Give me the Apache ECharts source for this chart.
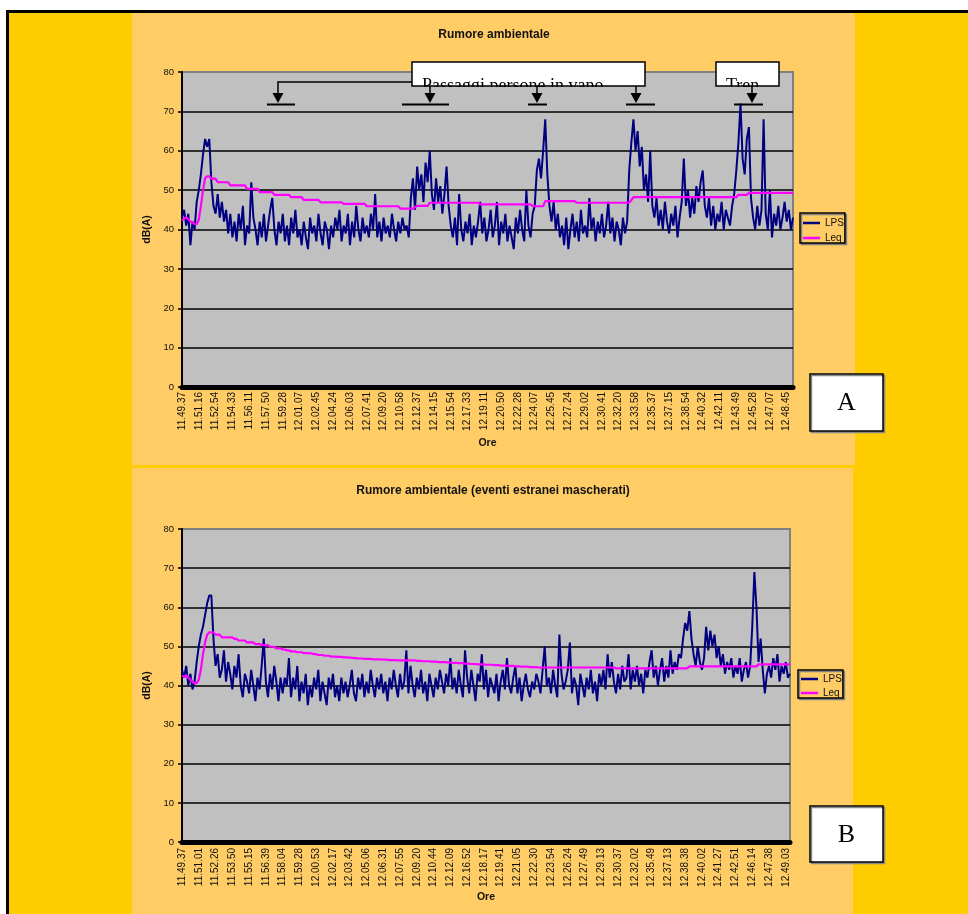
<!DOCTYPE html>
<html>
<head>
<meta charset="utf-8">
<script src="https://cdn.jsdelivr.net/npm/echarts@6/dist/echarts.min.js"></script>
<style>
  html, body { margin: 0; padding: 0; background: #ffffff; }
  #chart { width: 968px; height: 914px; }
</style>
</head>
<body>
<div id="chart"></div>
<script>
// Time labels shown under each chart (one every 8 samples)
const topTicks = ['11.49.37','11.51.16','11.52.54','11.54.33','11.56.11','11.57.50','11.59.28','12.01.07','12.02.45','12.04.24','12.06.03','12.07.41','12.09.20','12.10.58','12.12.37','12.14.15','12.15.54','12.17.33','12.19.11','12.20.50','12.22.28','12.24.07','12.25.45','12.27.24','12.29.02','12.30.41','12.32.20','12.33.58','12.35.37','12.37.15','12.38.54','12.40.32','12.42.11','12.43.49','12.45.28','12.47.07','12.48.45'];
const bottomTicks = ['11.49.37','11.51.01','11.52.26','11.53.50','11.55.15','11.56.39','11.58.04','11.59.28','12.00.53','12.02.17','12.03.42','12.05.06','12.06.31','12.07.55','12.09.20','12.10.44','12.12.09','12.16.52','12.18.17','12.19.41','12.21.05','12.22.30','12.23.54','12.26.24','12.27.49','12.29.13','12.30.37','12.32.02','12.35.49','12.37.13','12.38.38','12.40.02','12.41.27','12.42.51','12.46.14','12.47.38','12.49.03'];

// Chart A: sound pressure level LPS, dB(A)
const topLps = [
  43,45,41,44,36,42,40,47, 50,54,59,63,61,63,52,46, 44,49,43,47,42,45,39,44, 38,42,37,44,40,46,36,41,
  39,52,43,40,36,42,38,44, 37,41,45,48,40,36,42,39, 44,37,41,36,43,39,45,38, 40,36,42,38,35,43,39,41,
  37,44,39,36,42,40,35,41, 38,43,40,45,37,41,39,44, 36,42,38,46,40,37,43,39, 41,38,44,40,49,38,42,37,
  43,39,41,38,44,40,37,42, 39,43,40,41,38,48,53,45, 56,50,54,47,57,52,60,49, 45,53,47,51,44,49,56,46,
  41,38,43,36,49,40,37,42, 39,44,36,41,38,42,47,39, 43,37,40,45,38,41,47,36, 42,39,44,37,41,38,35,43,
  39,45,40,37,50,41,38,44, 46,55,58,53,60,68,54,46, 42,47,40,44,38,41,36,43, 35,40,44,38,42,37,45,39,
  41,38,48,40,43,37,42,39, 44,38,41,47,39,43,37,42, 40,36,43,39,42,55,62,68, 60,65,56,61,50,54,47,60,
  46,43,48,41,45,40,47,42, 39,44,41,46,38,43,47,58, 46,50,43,48,44,51,47,52, 55,46,43,48,41,46,40,44,
  42,47,40,45,43,41,46,49, 55,62,72,58,54,63,66,48, 43,40,46,41,45,68,44,40, 50,38,44,41,46,40,43,47,
  42,45,40,43
];
// Chart A: running equivalent level Leq, dB(A)
const topLeq = [
  42.3,42.8,43.1,42.6,42.0,41.8,41.4,41.4, 42.5,46.0,50.0,53.0,53.5,53.5,52.9,52.9,
  52.9,52.0,52.0,52.0,52.0,52.0,52.0,51.2, 51.2,51.2,51.2,51.2,51.2,51.2,51.2,50.3,
  50.3,50.3,50.3,50.3,50.3,49.5,49.5,49.5, 49.5,49.5,49.5,49.5,48.8,48.8,48.8,48.8,
  48.8,48.8,48.8,48.8,48.2,48.2,48.2,48.2, 48.2,48.2,47.5,47.5,47.5,47.5,47.5,47.5,
  47.5,47.5,46.9,46.9,46.9,46.9,46.9,46.9, 46.9,46.9,46.9,46.9,46.9,46.5,46.5,46.5,
  46.5,46.5,46.5,46.5,46.5,46.5,46.5,46.5, 45.9,45.9,45.9,45.9,45.9,45.9,45.9,45.9,
  45.9,45.9,45.9,45.9,45.9,45.9,45.9,45.9, 45.3,45.3,45.3,45.3,45.3,45.3,45.3,45.7,
  46.0,46.0,46.0,46.0,46.0,46.0,46.8,46.8, 46.8,46.8,46.8,46.8,46.8,46.8,46.8,46.8,
  46.8,46.8,46.8,46.8,46.8,46.8,46.8,46.8, 46.8,46.8,46.8,46.8,46.8,46.8,46.4,46.4,
  46.4,46.4,46.4,46.4,46.4,46.4,46.4,46.4, 46.4,46.4,46.4,46.4,46.4,46.4,46.4,46.4,
  46.4,46.4,46.4,46.4,46.4,46.4,46.4,45.9, 45.9,45.9,45.9,45.9,45.9,47.2,47.2,47.2,
  47.2,47.2,47.2,47.2,47.2,47.2,47.2,47.2, 47.2,47.2,47.2,47.2,46.8,46.8,46.8,46.8,
  46.8,46.8,46.8,46.8,46.8,46.8,46.8,46.8, 46.8,46.8,46.8,46.8,46.8,46.8,46.8,46.8,
  46.8,46.8,46.8,46.8,46.8,46.8,47.5,48.2, 48.2,48.2,48.2,48.2,48.2,48.2,48.2,48.2,
  48.2,48.2,48.2,48.2,48.2,48.2,48.2,48.2, 48.2,48.2,48.2,48.2,48.2,48.2,48.2,48.2,
  48.2,48.2,48.2,48.2,48.2,48.2,48.2,48.2, 48.2,48.2,48.2,48.2,48.2,48.2,48.2,48.2,
  48.2,48.2,48.2,48.2,48.2,48.2,48.2,48.2,
  48.2,48.8,48.8,48.8,48.8,48.8,49.3,49.3, 49.3,49.3,49.3,49.3,49.3,49.3,49.3,49.3,
  49.3,49.3,49.3,49.3,49.3,49.3,49.3,49.3, 49.3,49.3,49.3,49.3
];

// Chart B: LPS with the extraneous events removed
const bottomLps = [
  44,42,45,40,43,39,41,46, 50,53,55,58,61,63,63,52, 45,48,42,44,49,41,46,43, 39,45,42,48,40,37,43,41,
  38,44,40,36,42,39,45,52, 41,37,43,39,45,41,36,42, 38,42,40,47,37,42,39,45, 36,41,38,43,35,40,37,42,
  39,44,36,41,38,35,42,39, 43,37,40,36,42,38,41,37, 40,44,38,36,42,39,43,37, 41,38,44,40,37,42,39,43,
  38,41,36,42,39,44,40,37, 43,39,41,49,38,45,40,37, 42,39,44,38,41,36,43,40, 37,42,39,44,41,38,43,40,
  47,39,42,38,44,40,37,49, 42,38,44,40,36,43,41,48, 39,44,37,42,40,38,43,36, 41,44,39,47,40,38,42,45,
  38,42,36,40,43,39,37,41, 39,43,41,38,44,50,40,42, 38,44,40,37,53,43,39,41, 44,51,38,42,40,35,43,40,
  37,42,39,44,38,41,36,43, 40,44,39,48,42,46,41,38, 43,39,45,41,42,48,39,44, 41,45,40,43,38,44,42,46,
  49,42,45,40,44,47,41,45, 42,49,43,46,44,48,47,52, 56,54,59,52,48,45,50,46, 44,47,55,49,54,50,53,47,
  50,45,48,43,46,44,47,42, 45,43,47,41,44,46,42,45, 55,69,60,46,52,44,38,43, 45,42,47,44,48,41,45,43,
  46,42,43
];
// Chart B: Leq with the extraneous events removed
const bottomLeq = [
  42.5,42.2,42.6,42.0,41.5,41.0,40.6,40.6, 41.5,44.0,48.0,51.0,53.0,53.6,53.6,53.6,
  53.0,53.0,53.0,52.3,52.3,52.3,52.3,52.3, 52.3,51.9,51.9,51.5,51.5,51.5,51.5,51.0,
  51.0,51.0,51.0,50.6,50.6,50.6,50.3,50.3, 50.3,50.3,49.9,49.9,49.9,49.5,49.5,49.5,
  49.2,49.2,49.0,49.0,48.7,48.7,48.7,48.5, 48.5,48.5,48.3,48.3,48.3,48.2,48.2,48.0,
  48.0,47.8,47.8,47.8,47.6,47.6,47.6,47.4, 47.4,47.4,47.3,47.3,47.3,47.2,47.2,47.2,
  47.1,47.1,47.0,47.0,46.9,46.9,46.9,46.8, 46.8,46.8,46.8,46.7,46.7,46.7,46.7,46.7,
  46.6,46.6,46.6,46.5,46.5,46.5,46.5,46.4, 46.4,46.4,46.4,46.4,46.4,46.4,46.4,46.4,
  46.3,46.3,46.3,46.2,46.2,46.2,46.2,46.1, 46.1,46.1,46.0,46.0,46.0,46.0,45.9,45.9,
  45.9,45.8,45.8,45.8,45.7,45.7,45.7,45.6, 45.6,45.6,45.5,45.5,45.5,45.4,45.4,45.4,
  45.4,45.3,45.3,45.3,45.3,45.2,45.2,45.2, 45.1,45.1,45.1,45.0,45.0,45.0,45.0,44.9,
  44.9,44.9,44.8,44.8,44.8,44.8,44.7,44.7, 44.7,44.7,44.6,44.6,44.6,44.6,44.6,44.6,
  44.6,44.6,44.6,44.6,44.6,44.6,44.6,44.6, 44.6,44.6,44.6,44.6,44.6,44.6,44.6,44.6,
  44.6,44.6,44.6,44.6,44.6,44.6,44.6,44.6, 44.6,44.6,44.6,44.6,44.6,44.6,44.6,44.4,
  44.4,44.4,44.4,44.4,44.4,44.4,44.4,44.4, 44.4,44.4,44.4,44.4,44.4,44.4,44.4,44.4,
  44.4,44.4,44.4,44.4,44.4,44.4,44.4,44.4, 44.4,44.4,44.4,44.4,44.4,44.4,44.4,44.4,
  44.4,44.4,44.9,44.9,44.9,44.9,44.9,44.9, 44.9,44.9,44.9,44.9,44.9,44.9,44.9,44.9,
  44.9,44.9,44.9,44.9,44.9,44.9,44.9,44.9, 44.9,44.9,44.9,44.9,44.9,44.9,44.9,44.9,
  44.9,44.9,44.9,45.4,45.4,45.4,45.4,45.4, 45.4,45.4,45.4,45.4,45.4,45.4,45.4,45.4,
  45.4,45.4,45.4
];

const LABEL_STEP = 8;
const SANS = '"Liberation Sans", Arial, sans-serif';
const SERIF = '"Liberation Serif", "Times New Roman", serif';

// Category list: a time label every LABEL_STEP samples, blank in between
function buildCategories(ticks, count) {
  const out = [];
  for (let i = 0; i < count; i++) {
    out.push(i % LABEL_STEP === 0 && ticks[i / LABEL_STEP] !== undefined ? ticks[i / LABEL_STEP] : '');
  }
  return out;
}
const topCats = buildCategories(topTicks, topLps.length);
const bottomCats = buildCategories(bottomTicks, bottomLps.length);

function xAxisFor(gridIndex, cats, nameGap, margin) {
  return {
    gridIndex, type: 'category', data: cats, boundaryGap: false,
    axisLine: { show: true, lineStyle: { color: '#000', width: 5 } },
    axisTick: { show: false },
    splitLine: { show: false },
    axisLabel: { interval: LABEL_STEP - 1, rotate: 90, fontSize: 10, color: '#111', margin, fontFamily: SANS },
    name: 'Ore', nameLocation: 'middle', nameGap,
    nameTextStyle: { fontWeight: 'bold', fontSize: 10.5, color: '#111', fontFamily: SANS }
  };
}
function yAxisFor(gridIndex) {
  return {
    gridIndex, type: 'value', min: 0, max: 80, interval: 10,
    axisLine: { show: true, lineStyle: { color: '#000', width: 2 } },
    axisTick: { show: true, length: 4, lineStyle: { color: '#000', width: 1.5 } },
    axisLabel: { fontSize: 9.5, color: '#111', margin: 8, fontFamily: SANS },
    splitLine: { show: true, showMinLine: false, showMaxLine: false, lineStyle: { color: '#000', width: 1.5 } },
    name: 'dB(A)', nameLocation: 'middle', nameGap: 18,
    nameTextStyle: { fontWeight: 'bold', fontSize: 10.5, color: '#111', fontFamily: SANS }
  };
}
function legendFor(left, top, padTop, gap) {
  return {
    data: ['LPS', 'Leq'], orient: 'vertical', left, top,
    padding: [padTop, 1, 0, 3], itemGap: gap, itemWidth: 17, itemHeight: 2.5, icon: 'rect',
    backgroundColor: '#FFCC66', borderColor: '#000', borderWidth: 1.5,
    shadowColor: '#808080', shadowOffsetX: 1.5, shadowOffsetY: 1.5, shadowBlur: 0,
    textStyle: { fontSize: 10, lineHeight: 10, color: '#111', fontFamily: SANS },
    selectedMode: false
  };
}

// Annotation arrow: vertical stem, filled head and base bar
function arrow(x, yStart, barL, barR) {
  return [
    { type: 'line', z: 105, shape: { x1: x, y1: yStart, x2: x, y2: 94 }, style: { stroke: '#000', lineWidth: 1.5 } },
    { type: 'polygon', z: 105, shape: { points: [[x - 5.5, 93], [x + 5.5, 93], [x, 103]] }, style: { fill: '#000' } },
    { type: 'line', z: 105, shape: { x1: barL, y1: 104.5, x2: barR, y2: 104.5 }, style: { stroke: '#000', lineWidth: 2 } }
  ];
}
// Callout box whose text runs past the bottom edge (lower part hidden by the plot background)
function callout(x, w, text) {
  return [
    { type: 'rect', z: 101, shape: { x, y: 62, width: w, height: 24 }, style: { fill: '#fff', stroke: '#000', lineWidth: 1.5 } },
    { type: 'text', z: 102, x: x + 10, y: 86.5, style: { text, font: '18px ' + SERIF, fill: '#000', align: 'left', verticalAlign: 'middle' } },
    { type: 'rect', z: 103, shape: { x: x + 1, y: 87, width: w - 2, height: 12 }, style: { fill: '#C0C0C0' } }
  ];
}
function letterBox(y, h, letter) {
  return [
    { type: 'rect', z: 101, shape: { x: 810, y, width: 73, height: h },
      style: { fill: '#fff', stroke: '#000', lineWidth: 1.5, shadowColor: '#888', shadowOffsetX: 1.5, shadowOffsetY: 1.5, shadowBlur: 0 } },
    { type: 'text', z: 102, x: 846.5, y: y + h / 2 + 1, style: { text: letter, font: '26px ' + SERIF, fill: '#000', align: 'center', verticalAlign: 'middle' } }
  ];
}

const graphics = [
  // page frame and panels
  { type: 'rect', z: -10, shape: { x: 6, y: 10, width: 962, height: 904 }, style: { fill: '#000' } },
  { type: 'rect', z: -10, shape: { x: 9, y: 13, width: 959, height: 901 }, style: { fill: '#FFCC00' } },
  { type: 'rect', z: -10, shape: { x: 132, y: 13, width: 723, height: 452 }, style: { fill: '#FFCC66' } },
  { type: 'rect', z: -10, shape: { x: 132, y: 468, width: 721, height: 446 }, style: { fill: '#FFCC66' } },
  // titles
  { type: 'text', z: 10, x: 494, y: 35, style: { text: 'Rumore ambientale', font: 'bold 12px ' + SANS, fill: '#111', align: 'center', verticalAlign: 'middle' } },
  { type: 'text', z: 10, x: 493, y: 491, style: { text: 'Rumore ambientale (eventi estranei mascherati)', font: 'bold 12px ' + SANS, fill: '#111', align: 'center', verticalAlign: 'middle' } },
  // event callouts on chart A
  ...callout(412, 233, 'Passaggi persone in vano'),
  ...callout(716, 63, 'Tren'),
  { type: 'polyline', z: 105, shape: { points: [[412, 82], [278, 82], [278, 94]] }, style: { stroke: '#000', lineWidth: 1.5, fill: null } },
  { type: 'polygon', z: 105, shape: { points: [[272.5, 93], [283.5, 93], [278, 103]] }, style: { fill: '#000' } },
  { type: 'line', z: 105, shape: { x1: 267, y1: 104.5, x2: 295, y2: 104.5 }, style: { stroke: '#000', lineWidth: 2 } },
  ...arrow(430, 86, 402, 449),
  ...arrow(537, 86, 528, 547),
  ...arrow(636, 86, 626, 655),
  ...arrow(752, 86, 734, 763),
  // panel letters
  ...letterBox(374, 57, 'A'),
  ...letterBox(806, 56, 'B')
];

const chart = echarts.init(document.getElementById('chart'), null, { renderer: 'canvas' });
chart.setOption({
  animation: false,
  backgroundColor: '#ffffff',
  textStyle: { fontFamily: SANS },
  grid: [
    { left: 182, top: 72, width: 611, height: 315, show: true, backgroundColor: '#C0C0C0', borderColor: '#808080', borderWidth: 2 },
    { left: 182, top: 529, width: 608, height: 313, show: true, backgroundColor: '#C0C0C0', borderColor: '#808080', borderWidth: 2 }
  ],
  xAxis: [xAxisFor(0, topCats, 51, 5), xAxisFor(1, bottomCats, 50, 6)],
  yAxis: [yAxisFor(0), yAxisFor(1)],
  legend: [legendFor(800, 213, 5, 5), legendFor(798, 670, 4, 4)],
  series: [
    { name: 'LPS', type: 'line', xAxisIndex: 0, yAxisIndex: 0, data: topLps, symbol: 'none', color: '#000080', lineStyle: { color: '#000080', width: 2 } },
    { name: 'Leq', type: 'line', xAxisIndex: 0, yAxisIndex: 0, data: topLeq, symbol: 'none', color: '#FF00FF', lineStyle: { color: '#FF00FF', width: 2.2 } },
    { name: 'LPS', type: 'line', xAxisIndex: 1, yAxisIndex: 1, data: bottomLps, symbol: 'none', color: '#000080', lineStyle: { color: '#000080', width: 2 } },
    { name: 'Leq', type: 'line', xAxisIndex: 1, yAxisIndex: 1, data: bottomLeq, symbol: 'none', color: '#FF00FF', lineStyle: { color: '#FF00FF', width: 2.2 } }
  ],
  graphic: { elements: graphics }
});
</script>
</body>
</html>
